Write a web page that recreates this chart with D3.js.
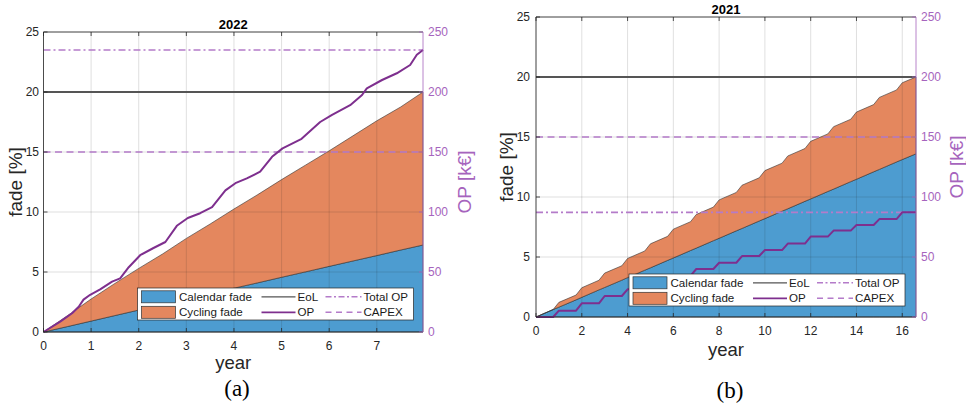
<!DOCTYPE html>
<html><head><meta charset="utf-8">
<script src="https://cdn.jsdelivr.net/npm/d3@7"></script>
<style>
body{margin:0;background:#fff}
svg{display:block}
text{font-family:"Liberation Sans",Arial,Helvetica,sans-serif}
text.cap{font-family:"Liberation Serif","Times New Roman",serif}
</style>
</head><body>
<svg id="chart" width="966" height="407"></svg>
<script>
// ---------- data: 2022 (panel a) ----------
const fadeYears2022    = [0, 0.5, 1, 1.5, 2, 2.5, 3, 3.5, 4, 4.5, 5, 5.5, 6, 6.5, 7, 7.5, 7.97];
const calendarFade2022 = [0, 0.45, 0.91, 1.37, 1.83, 2.28, 2.74, 3.19, 3.65, 4.10, 4.56, 5.01, 5.47, 5.92, 6.37, 6.83, 7.25];
const cyclingFade2022  = [0, 0.90, 1.84, 2.68, 3.47, 4.22, 5.06, 5.81, 6.60, 7.35, 8.14, 8.89, 9.63, 10.43, 11.23, 11.92, 12.75];
const opYears2022 = [0, 0.35, 0.6, 0.74, 0.84, 0.98, 1.19, 1.44, 1.61, 1.79, 2.03, 2.31, 2.56, 2.8, 3.03, 3.29, 3.54, 3.82, 4.03, 4.27, 4.55, 4.8, 5.02, 5.42, 5.81, 6.06, 6.44, 6.69, 6.79, 7.11, 7.42, 7.7, 7.84, 7.97];
const op2022      = [0, 8.6, 15.6, 21, 27, 31, 35.5, 42, 44.7, 54, 64, 70, 75, 88.5, 95, 99, 104, 118, 124, 128, 133.6, 146, 153, 161, 175, 181, 189, 197.5, 203, 210, 215.6, 222.5, 231, 235];
const eol2022 = 20, totalOP2022 = 235, capex2022 = 150, xMax2022 = 7.97;

// ---------- data: 2021 (panel b) ----------
const fadeYears2021    = [0, 0.75, 1, 1.75, 2, 2.75, 3, 3.75, 4, 4.75, 5, 5.75, 6, 6.75, 7, 7.75, 8, 8.75, 9, 9.75, 10, 10.75, 11, 11.75, 12, 12.75, 13, 13.75, 14, 14.75, 15, 15.75, 16, 16.6];
const calendarFade2021 = [0, 0.62, 0.82, 1.43, 1.64, 2.26, 2.46, 3.07, 3.28, 3.90, 4.10, 4.72, 4.92, 5.54, 5.74, 6.36, 6.56, 7.18, 7.38, 8.00, 8.20, 8.82, 9.02, 9.64, 9.84, 10.46, 10.66, 11.28, 11.48, 12.10, 12.30, 12.92, 13.12, 13.60];
const cyclingFade2021  = [0, 0, 0.4, 0.4, 0.8, 0.8, 1.2, 1.2, 1.6, 1.6, 2.0, 2.0, 2.4, 2.4, 2.8, 2.8, 3.2, 3.2, 3.6, 3.6, 4.0, 4.0, 4.4, 4.4, 4.8, 4.8, 5.2, 5.2, 5.6, 5.6, 6.0, 6.0, 6.4, 6.4];
const op2021           = [0, 0, 5.3, 5.3, 11.4, 11.4, 17.5, 17.5, 23.1, 23.1, 28.7, 28.7, 34.3, 34.3, 40, 40, 45.2, 45.2, 50.8, 50.8, 55.8, 55.8, 61.2, 61.2, 67, 67, 72, 72, 76.7, 76.7, 81.6, 81.6, 87.2, 87.2];
const eol2021 = 20, totalOP2021 = 87.2, capex2021 = 150, xMax2021 = 16.6;

// ---------- shared ----------
const fadeTicks = [0, 5, 10, 15, 20, 25];
const opTicks = [0, 50, 100, 150, 200, 250];
const legendLabels = ["Calendar fade", "Cycling fade", "EoL", "OP", "Total OP", "CAPEX"];

const C = {
  blue: "#4d9cd0", orange: "#e4875e", edge: "#333333",
  axis: "#262626", purple: "#7e2f8e", purpleAxis: "#a664bd", purpleLight: "#b47bc9",
  eol: "#555555", grid: "rgba(38,38,38,0.14)"
};

const svg = d3.select("#chart");

function panel(cfg) {
  const g = svg.append("g");
  const x = d3.scaleLinear().domain([0, cfg.xMax]).range([cfg.left, cfg.right]);
  const yL = d3.scaleLinear().domain([0, 25]).range([cfg.bottom, cfg.top]);
  const yR = d3.scaleLinear().domain([0, 250]).range([cfg.bottom, cfg.top]);

  // stacked areas
  const rows = cfg.fadeYears.map((t, i) => ({t, calendar: cfg.cal[i], cycling: cfg.cyc[i]}));
  const stacked = d3.stack().keys(["calendar", "cycling"])(rows);
  const area = d3.area().x(d => x(d.data.t)).y0(d => yL(d[0])).y1(d => yL(d[1]));
  const fills = [C.blue, C.orange];
  stacked.forEach((s, i) => {
    g.append("path").attr("d", area(s)).attr("fill", fills[i])
      .attr("stroke", C.edge).attr("stroke-width", 0.6).attr("stroke-linejoin", "round");
  });

  // grid
  const xt = cfg.xTicks;
  g.selectAll(null).data(xt).join("line")
    .attr("x1", d => x(d)).attr("x2", d => x(d)).attr("y1", cfg.top).attr("y2", cfg.bottom)
    .attr("stroke", C.grid).attr("stroke-width", 1);
  g.selectAll(null).data(fadeTicks).join("line")
    .attr("x1", cfg.left).attr("x2", cfg.right).attr("y1", d => yL(d)).attr("y2", d => yL(d))
    .attr("stroke", C.grid).attr("stroke-width", 1);

  // reference lines
  g.append("line").attr("x1", cfg.left).attr("x2", cfg.right)
    .attr("y1", yL(cfg.eol)).attr("y2", yL(cfg.eol)).attr("stroke", C.eol).attr("stroke-width", 1.8);
  g.append("line").attr("x1", cfg.left).attr("x2", cfg.right)
    .attr("y1", yR(cfg.totalOP)).attr("y2", yR(cfg.totalOP)).attr("stroke", C.purpleLight)
    .attr("stroke-width", 1.6).attr("stroke-dasharray", "7,3,2,3");
  g.append("line").attr("x1", cfg.left).attr("x2", cfg.right)
    .attr("y1", yR(cfg.capex)).attr("y2", yR(cfg.capex)).attr("stroke", C.purpleLight)
    .attr("stroke-width", 1.6).attr("stroke-dasharray", "7,4.5");

  // OP line
  const line = d3.line().x((d, i) => x(cfg.opYears[i])).y(d => yR(d)).curve(d3.curveLinear);
  g.append("path").attr("d", line(cfg.op)).attr("fill", "none")
    .attr("stroke", C.purple).attr("stroke-width", 2).attr("stroke-linejoin", "round");

  // axes frame
  g.append("line").attr("x1", cfg.left).attr("x2", cfg.right).attr("y1", cfg.bottom).attr("y2", cfg.bottom).attr("stroke", C.axis).attr("stroke-width", 0.8);
  g.append("line").attr("x1", cfg.left).attr("x2", cfg.right).attr("y1", cfg.top).attr("y2", cfg.top).attr("stroke", C.axis).attr("stroke-width", 0.8);
  g.append("line").attr("x1", cfg.left).attr("x2", cfg.left).attr("y1", cfg.top).attr("y2", cfg.bottom).attr("stroke", C.axis).attr("stroke-width", 0.8);
  g.append("line").attr("x1", cfg.right).attr("x2", cfg.right).attr("y1", cfg.top).attr("y2", cfg.bottom).attr("stroke", C.purpleAxis).attr("stroke-width", 0.8);

  // ticks (inward)
  const tl = 4;
  g.selectAll(null).data(xt).join("line")
    .attr("x1", d => x(d)).attr("x2", d => x(d)).attr("y1", cfg.bottom).attr("y2", cfg.bottom - tl)
    .attr("stroke", C.axis).attr("stroke-width", 0.8);
  g.selectAll(null).data(xt).join("line")
    .attr("x1", d => x(d)).attr("x2", d => x(d)).attr("y1", cfg.top).attr("y2", cfg.top + tl)
    .attr("stroke", C.axis).attr("stroke-width", 0.8);
  g.selectAll(null).data(fadeTicks).join("line")
    .attr("x1", cfg.left).attr("x2", cfg.left + tl).attr("y1", d => yL(d)).attr("y2", d => yL(d))
    .attr("stroke", C.axis).attr("stroke-width", 0.8);
  g.selectAll(null).data(opTicks).join("line")
    .attr("x1", cfg.right).attr("x2", cfg.right - tl).attr("y1", d => yR(d)).attr("y2", d => yR(d))
    .attr("stroke", C.purpleAxis).attr("stroke-width", 0.8);

  // tick labels
  g.selectAll(null).data(xt).join("text")
    .attr("x", d => x(d)).attr("y", cfg.bottom + 13.7).attr("dy", "0.35em")
    .attr("text-anchor", "middle").attr("font-size", 12).attr("fill", C.axis).text(d => d);
  g.selectAll(null).data(fadeTicks).join("text")
    .attr("x", cfg.left - cfg.leftPad).attr("y", d => yL(d)).attr("dy", "0.35em")
    .attr("text-anchor", "end").attr("font-size", 12).attr("fill", C.axis).text(d => d);
  g.selectAll(null).data(opTicks).join("text")
    .attr("x", cfg.right + 5).attr("y", d => yR(d)).attr("dy", "0.35em")
    .attr("text-anchor", "start").attr("font-size", 12).attr("fill", C.purpleAxis).text(d => d);

  const cx = (cfg.left + cfg.right) / 2, cy = (cfg.top + cfg.bottom) / 2;
  // title
  g.append("text").attr("x", cx).attr("y", cfg.titleY).attr("dy", "0.35em").attr("text-anchor", "middle")
    .attr("font-size", 13).attr("font-weight", "bold").attr("fill", "#000").text(cfg.title);
  // axis labels
  g.append("text").attr("x", cx).attr("y", cfg.bottom + cfg.xLabelOff).attr("dy", "0.35em").attr("text-anchor", "middle")
    .attr("font-size", 18.5).attr("fill", C.axis).text("year");
  g.append("text").attr("transform", `translate(${cfg.yLabelX},${cy}) rotate(-90)`).attr("dy", "0.35em")
    .attr("text-anchor", "middle").attr("font-size", 19).attr("fill", C.axis).text("fade [%]");
  g.append("text").attr("transform", `translate(${cfg.opLabelX},${cy}) rotate(-90)`).attr("dy", "0.35em")
    .attr("text-anchor", "middle").attr("font-size", 19).attr("fill", C.purpleAxis).text("OP [k€]");
  // sub caption
  g.append("text").attr("class", "cap").attr("x", cfg.capX).attr("y", cfg.capY).attr("dy", "0.33em").attr("text-anchor", "middle")
    .attr("font-size", 23).attr("fill", "#000").text(cfg.caption);

  // legend
  const L = g.append("g").attr("transform", `translate(${cfg.legX},${cfg.legY})`);
  L.append("rect").attr("width", 276).attr("height", 32).attr("fill", "#fff").attr("stroke", C.axis).attr("stroke-width", 0.7);
  const r1 = 8.8, r2 = 24.3;
  L.append("rect").attr("x", 4).attr("y", r1 - 6).attr("width", 34).attr("height", 12).attr("fill", C.blue).attr("stroke", C.edge).attr("stroke-width", 0.7);
  L.append("rect").attr("x", 4).attr("y", r2 - 6).attr("width", 34).attr("height", 12).attr("fill", C.orange).attr("stroke", C.edge).attr("stroke-width", 0.7);
  L.append("line").attr("x1", 124).attr("x2", 158).attr("y1", r1).attr("y2", r1).attr("stroke", C.eol).attr("stroke-width", 1.3);
  L.append("line").attr("x1", 124).attr("x2", 158).attr("y1", r2).attr("y2", r2).attr("stroke", C.purple).attr("stroke-width", 1.8);
  L.append("line").attr("x1", 188).attr("x2", 224).attr("y1", r1).attr("y2", r1).attr("stroke", C.purpleLight).attr("stroke-width", 1.4).attr("stroke-dasharray", "6,2.5,2,2.5");
  L.append("line").attr("x1", 188).attr("x2", 224).attr("y1", r2).attr("y2", r2).attr("stroke", C.purpleLight).attr("stroke-width", 1.4).attr("stroke-dasharray", "6,4.5");
  const pos = [[41.5, r1], [41.5, r2], [160, r1], [160, r2], [226, r1], [226, r2]];
  legendLabels.forEach((t, i) => {
    L.append("text").attr("x", pos[i][0]).attr("y", pos[i][1]).attr("dy", "0.35em")
      .attr("font-size", 11.6).attr("fill", "#1a1a1a").text(t);
  });
}

panel({
  left: 43.5, right: 423, top: 32, bottom: 332, xMax: xMax2022,
  xTicks: [0, 1, 2, 3, 4, 5, 6, 7],
  fadeYears: fadeYears2022, cal: calendarFade2022, cyc: cyclingFade2022,
  opYears: opYears2022, op: op2022, eol: eol2022, totalOP: totalOP2022, capex: capex2022,
  title: "2022", titleY: 24, xLabelOff: 31, yLabelX: 15, opLabelX: 464, leftPad: 4.5,
  caption: "(a)", capX: 237, capY: 388, legX: 137.5, legY: 288
});
panel({
  left: 536, right: 916, top: 17, bottom: 317, xMax: xMax2021,
  xTicks: [0, 2, 4, 6, 8, 10, 12, 14, 16],
  fadeYears: fadeYears2021, cal: calendarFade2021, cyc: cyclingFade2021,
  opYears: fadeYears2021, op: op2021, eol: eol2021, totalOP: totalOP2021, capex: capex2021,
  title: "2021", titleY: 9.5, xLabelOff: 33, yLabelX: 506, opLabelX: 956, leftPad: 6,
  caption: "(b)", capX: 730, capY: 390, legX: 629, legY: 274
});
</script>
</body></html>
